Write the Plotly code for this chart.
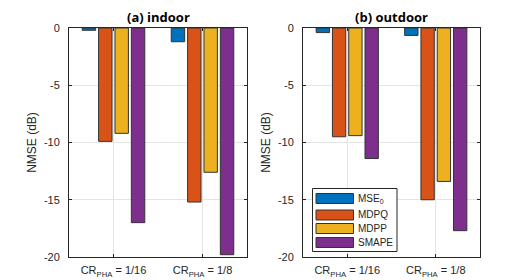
import plotly.graph_objects as go

categories = ["CR<sub>PHA</sub> = 1/16", "CR<sub>PHA</sub> = 1/8"]
series_names = ["MSE<sub>0</sub>", "MDPQ", "MDPP", "SMAPE"]
indoor_mse0 = [-0.2, -1.2]
indoor_mdpq = [-9.9, -15.2]
indoor_mdpp = [-9.2, -12.6]
indoor_smape = [-17.0, -19.8]
outdoor_mse0 = [-0.4, -0.65]
outdoor_mdpq = [-9.5, -15.0]
outdoor_mdpp = [-9.4, -13.4]
outdoor_smape = [-11.4, -17.7]
ytick_vals = [0, -5, -10, -15, -20]
ytick_text = ["0", "-5", "-10", "-15", "-20"]
panel_titles = ["<b>(a) indoor</b>", "<b>(b) outdoor</b>"]
y_title = "NMSE (dB)"

colors = ["#0072BD", "#D95319", "#EDB120", "#7E2F8E"]
OFF = 8  # page body margin
W, H = 532 - OFF, 280 - OFF


def px(xp):
    return (xp - OFF) / W


def py(yp):
    return 1 - (yp - OFF) / H


fig = go.Figure()
indoor = [indoor_mse0, indoor_mdpq, indoor_mdpp, indoor_smape]
outdoor = [outdoor_mse0, outdoor_mdpq, outdoor_mdpp, outdoor_smape]
edge = dict(color="#333333", width=1)
for i, (name, vals) in enumerate(zip(series_names, indoor)):
    fig.add_trace(go.Bar(x=categories, y=vals, name=name, xaxis="x", yaxis="y",
                         marker=dict(color=colors[i], line=edge), showlegend=False))
for i, (name, vals) in enumerate(zip(series_names, outdoor)):
    fig.add_trace(go.Bar(x=categories, y=vals, name=name, xaxis="x2", yaxis="y2",
                         marker=dict(color=colors[i], line=edge), showlegend=False))

axcol = "#262626"
gridcol = "#e4e4e4"
common_x = dict(showline=True, mirror="ticks", linecolor=axcol, linewidth=1,
                ticks="inside", ticklen=3, tickcolor=axcol, showgrid=True,
                gridcolor=gridcol, zeroline=False, range=[-0.5, 1.5], automargin=False,
                tickfont=dict(size=11, color=axcol), ticklabelstandoff=3)
common_y = dict(showline=True, mirror="ticks", linecolor=axcol, linewidth=1,
                ticks="inside", ticklen=3, tickcolor=axcol, showgrid=True,
                gridcolor=gridcol, zeroline=False, range=[-20, 0], automargin=False,
                tickmode="array", tickvals=ytick_vals, ticktext=ytick_text,
                tickfont=dict(size=11, color=axcol), ticklabelstandoff=6,
                title=dict(text=y_title, font=dict(size=12, color=axcol), standoff=4))

ydom = [py(257), py(28)]
annotations = []
for k, t in enumerate(panel_titles):
    sfx = "" if k == 0 else "2"
    annotations.append(dict(text=t, xref="x%s domain" % sfx, yref="y%s domain" % sfx,
                            x=0.5, y=1, yanchor="bottom", xanchor="center", yshift=1,
                            borderpad=0, showarrow=False,
                            font=dict(family="Open Sans, sans-serif", size=13, color="#000")))

# manual legend (MATLAB-style wide patches)
shapes = [dict(type="rect", xref="paper", yref="paper", x0=px(312.5), x1=px(397),
               y0=py(251.5), y1=py(188.5), line=dict(color=axcol, width=1),
               fillcolor="white", layer="above")]
patch_tops = [193.5, 210, 223.5, 237.5]
text_y = [199, 214.7, 228.3, 242.3]
for i, name in enumerate(series_names):
    shapes.append(dict(type="rect", xref="paper", yref="paper", x0=px(316), x1=px(353.5),
                       y0=py(patch_tops[i] + 10), y1=py(patch_tops[i]),
                       line=dict(color="#333333", width=1), fillcolor=colors[i], layer="above"))
    annotations.append(dict(text=name, xref="paper", yref="paper", x=px(356),
                            y=py(text_y[i]), xanchor="left", yanchor="middle",
                            showarrow=False, font=dict(size=10, color=axcol)))

fig.update_layout(
    width=W, height=H,
    margin=dict(l=0, r=0, t=0, b=0, autoexpand=False),
    paper_bgcolor="white", plot_bgcolor="white",
    font=dict(family="Liberation Sans, Arial, sans-serif", color=axcol),
    barmode="group", bargap=0.264, bargroupgap=0.18,
    showlegend=False,
    xaxis=dict(domain=[px(69), px(247)], anchor="y", **common_x),
    yaxis=dict(domain=ydom, anchor="x", **common_y),
    xaxis2=dict(domain=[px(303), px(480)], anchor="y2", **common_x),
    yaxis2=dict(domain=ydom, anchor="x2", **common_y),
    shapes=shapes,
    annotations=annotations,
)
fig.write_html("out.html")
